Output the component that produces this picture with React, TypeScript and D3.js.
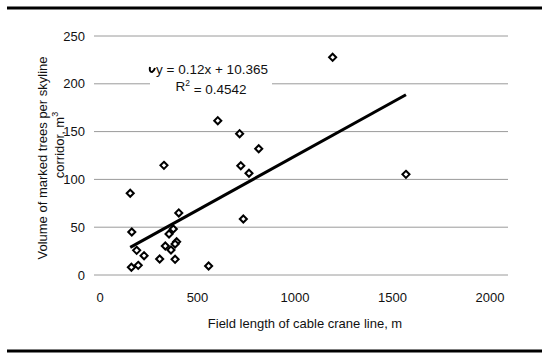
import React from "react";
import * as d3 from "d3";

const fieldLength: number[] = [1193, 604, 716, 814, 328, 722, 764, 1569, 155, 404, 735, 163, 376, 354, 188, 335, 393, 385, 364, 226, 306, 385, 161, 196, 557];
const volume: number[] = [227.7, 161.4, 147.8, 132.1, 114.7, 114.3, 106.4, 105.3, 85.5, 64.9, 58.6, 45, 48.1, 42.9, 25.8, 30.3, 34.8, 32.4, 26.2, 20.2, 16.7, 16.4, 8.1, 10.1, 9.4];
const xTicks: number[] = [0, 500, 1000, 1500, 2000];
const yTicks: number[] = [0, 50, 100, 150, 200, 250];
const eqLabel = "y = 0.12x + 10.365";
const r2Label = "0.4542";

export default function App() {
  const W = 550, H = 360;
  const x = d3.scaleLinear().domain([0, 2000]).range([100, 490]);
  const y = d3.scaleLinear().domain([0, 250]).range([275, 36]);
  const gridLeft = 94, gridRight = 508;

  // least-squares linear trend through the points
  const mx = d3.mean(fieldLength) as number;
  const my = d3.mean(volume) as number;
  let sxy = 0, sxx = 0;
  fieldLength.forEach((fx, i) => { sxy += (fx - mx) * (volume[i] - my); sxx += (fx - mx) ** 2; });
  const slope = sxy / sxx;
  const intercept = my - slope * mx;
  const xMin = d3.min(fieldLength) as number;
  const xMax = d3.max(fieldLength) as number;
  const trend = d3.line<number>().x(d => x(d)).y(d => y(slope * d + intercept));
  const diamond = d3.symbol().type(d3.symbolDiamond2).size(32)();
  const font = "Arial, 'Liberation Sans', sans-serif";
  return (
    <svg width={W} height={H} style={{ position: "absolute", left: 0, top: 0, background: "#fff" }} fontFamily={font}>
      <rect x={0} y={0} width={W} height={H} fill="#fff" />
      <line x1={7} x2={542} y1={8} y2={8} stroke="#000" strokeWidth={3} />
      <line x1={7} x2={542} y1={351} y2={351} stroke="#000" strokeWidth={3} />
      {yTicks.map(t => (
        <g key={t}>
          <line x1={gridLeft} x2={gridRight} y1={y(t)} y2={y(t)} stroke="#9a9a9a" strokeWidth={1} />
          <text x={85} y={y(t)} dy="0.35em" textAnchor="end" fontSize={13} fill="#111">{t}</text>
        </g>
      ))}
      {xTicks.map(t => (
        <text key={t} x={x(t)} y={297} dy="0.35em" textAnchor="middle" fontSize={13} fill="#111">{t}</text>
      ))}
      <text x={305} y={323} dy="0.35em" textAnchor="middle" fontSize={13} fill="#111">Field length of cable crane line, m</text>
      <g transform="translate(42,158) rotate(-90)">
        <text x={0} y={0} dy="0.35em" textAnchor="middle" fontSize={13} fill="#111">Volume of marked trees per skyline</text>
      </g>
      <g transform="translate(59,145) rotate(-90)">
        <text x={0} y={0} dy="0.35em" textAnchor="middle" fontSize={13} fill="#111">corridor, m<tspan fontSize={9} dy="-0.6em">3</tspan></text>
      </g>
      <rect x={150} y={58} width={122} height={34} fill="#fff" />
      <path d="M150,67 q-1,5 2,5 q2,-1 3,-4" fill="none" stroke="#000" strokeWidth={2} />
      <text x={212} y={69} dy="0.35em" textAnchor="middle" fontSize={13.5} fill="#111">{eqLabel}</text>
      <text x={211} y={86} dy="0.35em" textAnchor="middle" fontSize={13.5} fill="#111">R<tspan fontSize={8.5} dy="-0.6em">2</tspan><tspan dy="0.6em"> = {r2Label}</tspan></text>
      <path d={trend([xMin, xMax]) as string} stroke="#000" strokeWidth={3} fill="none" />
      {fieldLength.map((fx, i) => (
        <path key={i} d={diamond as string} transform={`translate(${x(fx)},${y(volume[i])})`} fill="#fff" stroke="#000" strokeWidth={2} />
      ))}
    </svg>
  );
}
